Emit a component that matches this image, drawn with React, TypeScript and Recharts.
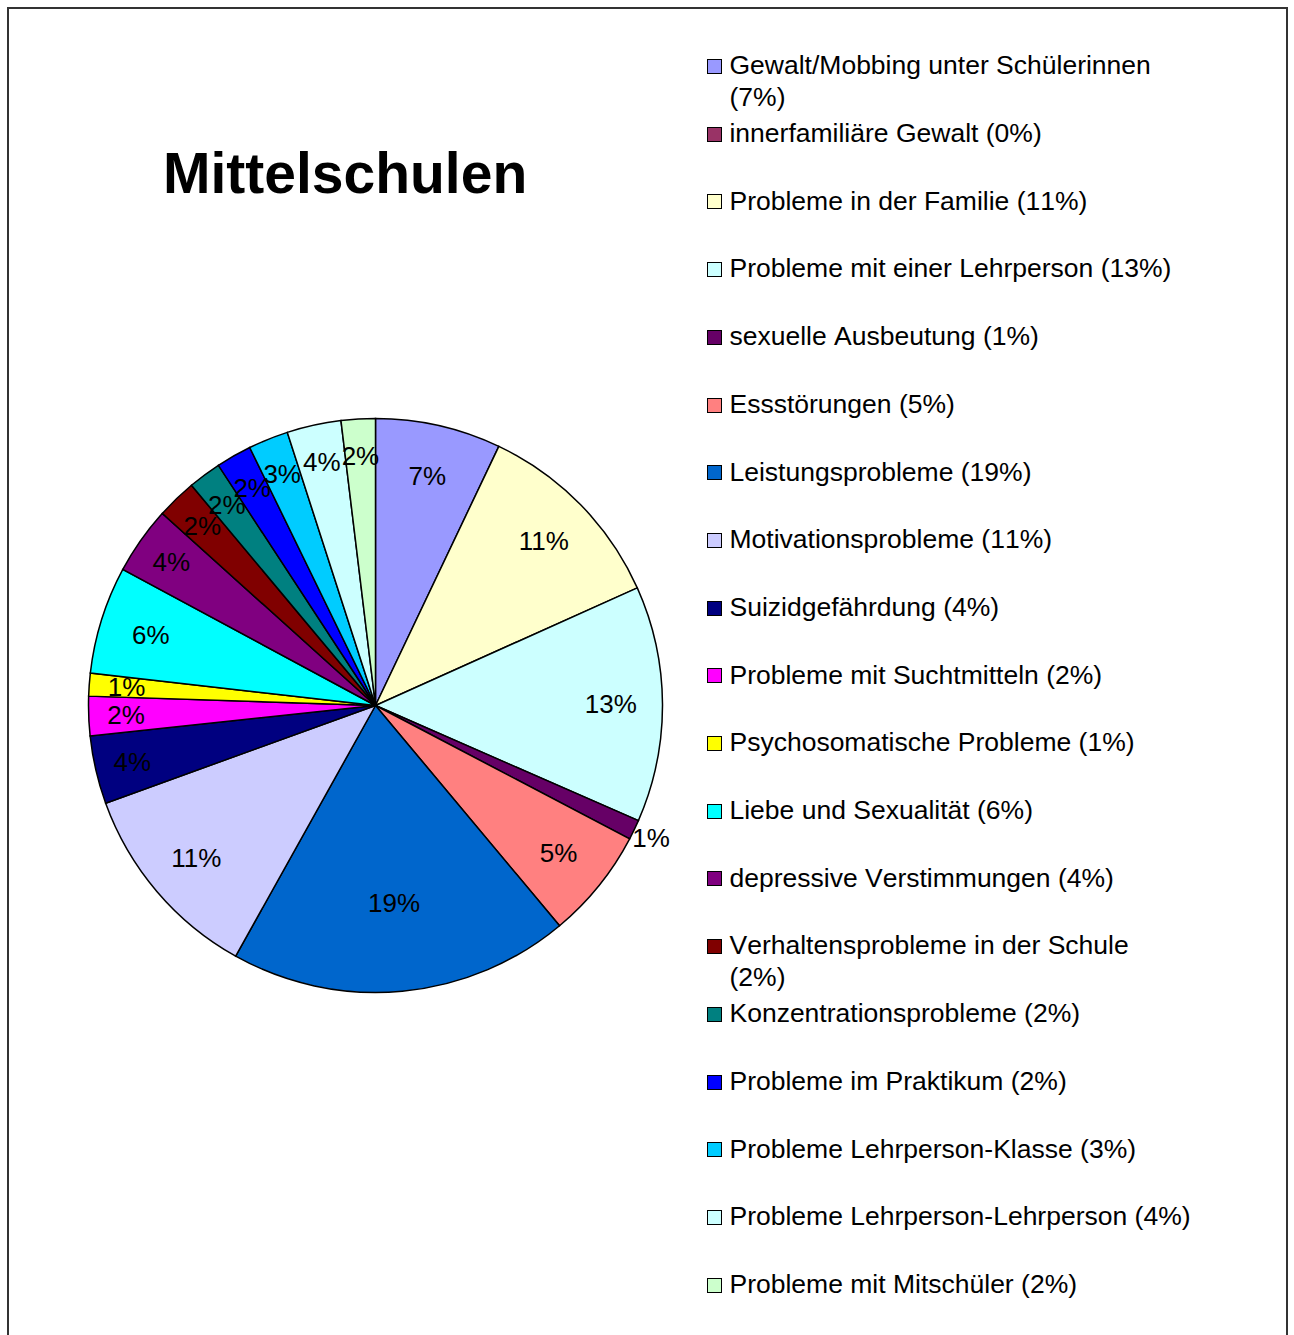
import React from "react"
import { PieChart, Pie, Cell } from "recharts"

// categories, clockwise from 12 o'clock
const CATEGORIES = [
  "Gewalt/Mobbing unter Schülerinnen",
  "innerfamiliäre Gewalt",
  "Probleme in der Familie",
  "Probleme mit einer Lehrperson",
  "sexuelle Ausbeutung",
  "Essstörungen",
  "Leistungsprobleme",
  "Motivationsprobleme",
  "Suizidgefährdung",
  "Probleme mit Suchtmitteln",
  "Psychosomatische Probleme",
  "Liebe und Sexualität",
  "depressive Verstimmungen",
  "Verhaltensprobleme in der Schule",
  "Konzentrationsprobleme",
  "Probleme im Praktikum",
  "Probleme Lehrperson-Klasse",
  "Probleme Lehrperson-Lehrperson",
  "Probleme mit Mitschüler",
]

// slice shares (percent of the circle)
const SHARES = [7.07, 0, 11.21, 13.29, 1.12, 6.23, 19.18, 11.37, 3.84, 2.21, 1.28, 6.06, 3.81, 2.25, 1.86, 2.0, 2.25, 3.05, 1.92]

// percentages as printed in the labels / legend
const PERCENT_LABELS = [7, 0, 11, 13, 1, 5, 19, 11, 4, 2, 1, 6, 4, 2, 2, 2, 3, 4, 2]

const COLORS = [
  "#9999FF", "#993366", "#FFFFCC", "#CCFFFF", "#660066", "#FF8080", "#0066CC",
  "#CCCCFF", "#000080", "#FF00FF", "#FFFF00", "#00FFFF", "#800080", "#800000",
  "#008080", "#0000FF", "#00CCFF", "#CCFFFF", "#CCFFCC",
]

const FONT = '"Liberation Sans", Arial, sans-serif'
const RADIAN = Math.PI / 180
const R = 287

const data = CATEGORIES.map((name, i) => ({ name, value: SHARES[i], pct: PERCENT_LABELS[i] }))

function renderLabel(props: any) {
  const { cx, cy, midAngle, index, value } = props
  if (!value) return null
  let f = 0.87
  if (value >= 15) f = 0.69
  else if (value >= 5) f = 0.82
  else if (value < 1.2) f = 1.065
  const x = cx + R * f * Math.cos(-midAngle * RADIAN)
  const y = cy + R * f * Math.sin(-midAngle * RADIAN)
  return (
    <text x={x} y={y} textAnchor="middle" dominantBaseline="central" fill="#000" fontSize={26} fontFamily={FONT}>
      {PERCENT_LABELS[index]}%
    </text>
  )
}

function ChartLegend() {
  return (
    <div style={{ position: "absolute", left: 698.7, top: 0, width: 560, height: 1300, fontFamily: FONT }}>
      {data.map((d, i) => (
        <React.Fragment key={d.name}>
          <div
            style={{
              position: "absolute",
              left: 0,
              top: 51 + 67.7 * i,
              width: 15,
              height: 15,
              boxSizing: "border-box",
              background: COLORS[i],
              border: "1.5px solid #000",
            }}
          />
          <div
            style={{
              position: "absolute",
              left: 22.8,
              top: 41.3 + 67.7 * i,
              width: 461.7,
              fontSize: 26.5,
              lineHeight: "32px",
              color: "#000",
              fontKerning: "none",
              whiteSpace: "normal",
            }}
          >
            {d.name} ({d.pct}%)
          </div>
        </React.Fragment>
      ))}
    </div>
  )
}

export default function App() {
  return (
    <div style={{ position: "fixed", left: 8, top: 8, width: 1278, height: 1327, background: "#fff" }}>
      <div
        style={{
          position: "absolute",
          left: -1,
          top: -1,
          width: 1281,
          height: 1400,
          boxSizing: "border-box",
          border: "2px solid #333",
        }}
      />
      <div
        style={{
          position: "absolute",
          left: 155,
          top: 137,
          fontFamily: FONT,
          fontWeight: "bold",
          fontSize: 57,
          lineHeight: "57px",
          color: "#000",
          whiteSpace: "nowrap",
        }}
      >
        Mittelschulen
      </div>
      <div style={{ position: "absolute", left: 0, top: 0 }}>
        <PieChart width={680} height={1327} margin={{ top: 0, right: 0, bottom: 0, left: 0 }}>
          <Pie
            data={data}
            dataKey="value"
            nameKey="name"
            cx={367.5}
            cy={697.5}
            outerRadius={R}
            startAngle={90}
            endAngle={-270}
            stroke="#000"
            strokeWidth={1.5}
            label={renderLabel}
            labelLine={false}
            isAnimationActive={false}
          >
            {data.map((d, i) => (
              <Cell key={d.name} fill={COLORS[i]} />
            ))}
          </Pie>
        </PieChart>
      </div>
      <ChartLegend />
    </div>
  )
}
